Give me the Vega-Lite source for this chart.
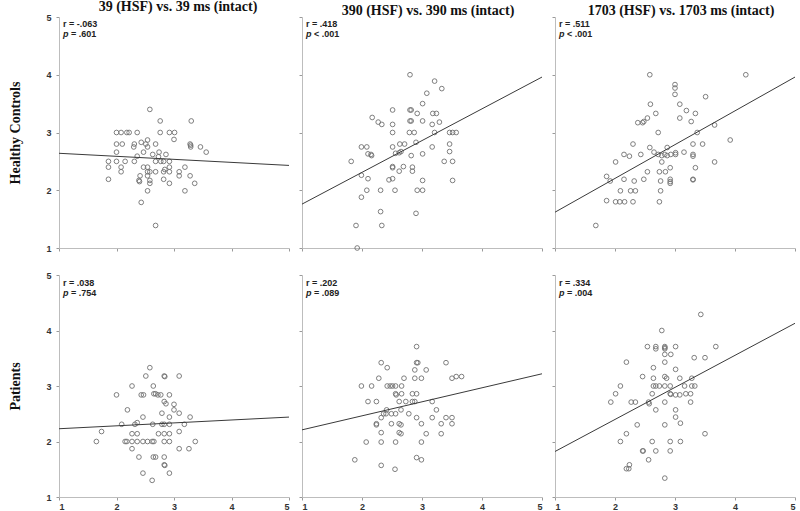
{
"$schema": "https://vega.github.io/schema/vega-lite/v6.json",
"padding": {"left": 8, "top": 0, "right": 0, "bottom": 0},
"columns": 3,
"align": "each",
"bounds": "flush",
"spacing": {"row": 27, "column": 13},
"datasets": {
"lines": [
{"p":1,"x":1,"y":2.64},{"p":1,"x":5,"y":2.43},
{"p":2,"x":1,"y":1.76},{"p":2,"x":5,"y":3.96},
{"p":3,"x":1,"y":1.62},{"p":3,"x":5,"y":3.96},
{"p":4,"x":1,"y":2.23},{"p":4,"x":5,"y":2.44},
{"p":5,"x":1,"y":2.21},{"p":5,"x":5,"y":3.22},
{"p":6,"x":1,"y":1.82},{"p":6,"x":5,"y":4.13}
],
"stats": [
{"p":1,"r":"r = -.063","v":"= .601"},
{"p":2,"r":"r = .418","v":"< .001"},
{"p":3,"r":"r = .511","v":"< .001"},
{"p":4,"r":"r = .038","v":"= .754"},
{"p":5,"r":"r = .202","v":"= .089"},
{"p":6,"r":"r = .334","v":"= .004"}
],
"pts": [
{"p":1,"x":2.58,"y":3.40},{"p":1,"x":2.76,"y":3.20},{"p":1,"x":3.30,"y":3.20},{"p":1,"x":2.00,"y":3.00},{"p":1,"x":2.08,"y":3.00},{"p":1,"x":2.18,"y":3.00},{"p":1,"x":2.22,"y":3.00},{"p":1,"x":2.36,"y":3.00},{"p":1,"x":2.76,"y":3.00},{"p":1,"x":2.92,"y":3.00},{"p":1,"x":3.01,"y":3.00},{"p":1,"x":2.54,"y":2.87},{"p":1,"x":3.00,"y":2.88},{"p":1,"x":2.00,"y":2.80},{"p":1,"x":2.10,"y":2.80},{"p":1,"x":2.31,"y":2.80},{"p":1,"x":2.43,"y":2.83},{"p":1,"x":2.51,"y":2.80},{"p":1,"x":2.68,"y":2.80},{"p":1,"x":3.28,"y":2.80},{"p":1,"x":3.29,"y":2.78},{"p":1,"x":2.30,"y":2.75},{"p":1,"x":2.54,"y":2.75},{"p":1,"x":3.46,"y":2.75},{"p":1,"x":3.29,"y":2.75},{"p":1,"x":3.56,"y":2.66},{"p":1,"x":2.00,"y":2.66},{"p":1,"x":2.63,"y":2.62},{"p":1,"x":2.74,"y":2.66},{"p":1,"x":2.86,"y":2.62},{"p":1,"x":2.36,"y":2.59},{"p":1,"x":2.47,"y":2.66},{"p":1,"x":1.86,"y":2.50},{"p":1,"x":2.00,"y":2.50},{"p":1,"x":2.15,"y":2.50},{"p":1,"x":2.31,"y":2.50},{"p":1,"x":2.68,"y":2.50},{"p":1,"x":2.77,"y":2.50},{"p":1,"x":2.82,"y":2.50},{"p":1,"x":2.92,"y":2.50},{"p":1,"x":2.73,"y":2.58},{"p":1,"x":1.86,"y":2.40},{"p":1,"x":2.08,"y":2.40},{"p":1,"x":2.47,"y":2.40},{"p":1,"x":2.54,"y":2.40},{"p":1,"x":2.92,"y":2.40},{"p":1,"x":3.19,"y":2.40},{"p":1,"x":2.84,"y":2.36},{"p":1,"x":2.08,"y":2.32},{"p":1,"x":2.54,"y":2.32},{"p":1,"x":2.58,"y":2.32},{"p":1,"x":2.68,"y":2.32},{"p":1,"x":2.82,"y":2.32},{"p":1,"x":2.92,"y":2.32},{"p":1,"x":3.09,"y":2.32},{"p":1,"x":3.09,"y":2.25},{"p":1,"x":3.28,"y":2.25},{"p":1,"x":2.41,"y":2.25},{"p":1,"x":2.54,"y":2.25},{"p":1,"x":1.86,"y":2.19},{"p":1,"x":2.39,"y":2.17},{"p":1,"x":2.40,"y":2.15},{"p":1,"x":2.58,"y":2.17},{"p":1,"x":2.58,"y":2.12},{"p":1,"x":2.82,"y":2.19},{"p":1,"x":2.92,"y":2.12},{"p":1,"x":3.36,"y":2.12},{"p":1,"x":2.54,"y":1.99},{"p":1,"x":3.19,"y":1.99},{"p":1,"x":2.43,"y":1.79},{"p":1,"x":2.68,"y":1.39},
{"p":2,"x":2.80,"y":4.00},{"p":2,"x":3.21,"y":3.89},{"p":2,"x":3.33,"y":3.76},{"p":2,"x":3.08,"y":3.68},{"p":2,"x":3.01,"y":3.50},{"p":2,"x":2.51,"y":3.39},{"p":2,"x":2.80,"y":3.39},{"p":2,"x":2.82,"y":3.39},{"p":2,"x":3.18,"y":3.33},{"p":2,"x":3.24,"y":3.33},{"p":2,"x":2.92,"y":3.33},{"p":2,"x":2.17,"y":3.26},{"p":2,"x":2.27,"y":3.18},{"p":2,"x":2.33,"y":3.14},{"p":2,"x":2.51,"y":3.14},{"p":2,"x":2.82,"y":3.20},{"p":2,"x":2.80,"y":3.20},{"p":2,"x":3.01,"y":3.20},{"p":2,"x":3.29,"y":3.18},{"p":2,"x":3.17,"y":3.14},{"p":2,"x":2.51,"y":3.00},{"p":2,"x":2.79,"y":3.00},{"p":2,"x":2.87,"y":3.00},{"p":2,"x":3.21,"y":3.00},{"p":2,"x":3.46,"y":3.00},{"p":2,"x":3.51,"y":3.00},{"p":2,"x":3.57,"y":3.00},{"p":2,"x":1.99,"y":2.75},{"p":2,"x":2.08,"y":2.75},{"p":2,"x":2.51,"y":2.75},{"p":2,"x":2.63,"y":2.80},{"p":2,"x":2.71,"y":2.80},{"p":2,"x":2.90,"y":2.83},{"p":2,"x":3.17,"y":2.75},{"p":2,"x":3.46,"y":2.80},{"p":2,"x":2.10,"y":2.63},{"p":2,"x":2.15,"y":2.62},{"p":2,"x":2.16,"y":2.60},{"p":2,"x":2.56,"y":2.64},{"p":2,"x":2.62,"y":2.65},{"p":2,"x":2.65,"y":2.67},{"p":2,"x":2.82,"y":2.60},{"p":2,"x":3.01,"y":2.63},{"p":2,"x":3.46,"y":2.67},{"p":2,"x":1.82,"y":2.50},{"p":2,"x":3.37,"y":2.50},{"p":2,"x":3.51,"y":2.50},{"p":2,"x":2.51,"y":2.39},{"p":2,"x":2.51,"y":2.41},{"p":2,"x":2.69,"y":2.41},{"p":2,"x":2.84,"y":2.40},{"p":2,"x":2.84,"y":2.33},{"p":2,"x":2.62,"y":2.33},{"p":2,"x":1.99,"y":2.26},{"p":2,"x":2.10,"y":2.20},{"p":2,"x":2.45,"y":2.18},{"p":2,"x":2.51,"y":2.20},{"p":2,"x":3.01,"y":2.17},{"p":2,"x":3.51,"y":2.17},{"p":2,"x":2.08,"y":2.00},{"p":2,"x":2.31,"y":2.00},{"p":2,"x":2.55,"y":2.00},{"p":2,"x":2.92,"y":2.00},{"p":2,"x":3.01,"y":2.00},{"p":2,"x":1.99,"y":1.88},{"p":2,"x":2.31,"y":1.63},{"p":2,"x":2.90,"y":1.60},{"p":2,"x":1.90,"y":1.39},{"p":2,"x":2.33,"y":1.39},{"p":2,"x":1.92,"y":1.00},
{"p":3,"x":2.58,"y":4.00},{"p":3,"x":4.18,"y":4.00},{"p":3,"x":3.00,"y":3.83},{"p":3,"x":3.00,"y":3.77},{"p":3,"x":3.00,"y":3.66},{"p":3,"x":3.51,"y":3.62},{"p":3,"x":2.59,"y":3.49},{"p":3,"x":3.08,"y":3.49},{"p":3,"x":3.19,"y":3.38},{"p":3,"x":2.68,"y":3.33},{"p":3,"x":3.34,"y":3.33},{"p":3,"x":2.54,"y":3.25},{"p":3,"x":3.08,"y":3.25},{"p":3,"x":3.27,"y":3.19},{"p":3,"x":2.38,"y":3.17},{"p":3,"x":2.46,"y":3.17},{"p":3,"x":2.48,"y":3.19},{"p":3,"x":3.66,"y":3.13},{"p":3,"x":2.72,"y":3.00},{"p":3,"x":3.37,"y":3.00},{"p":3,"x":3.92,"y":2.87},{"p":3,"x":2.30,"y":2.80},{"p":3,"x":2.58,"y":2.74},{"p":3,"x":2.87,"y":2.74},{"p":3,"x":3.30,"y":2.80},{"p":3,"x":3.46,"y":2.80},{"p":3,"x":2.65,"y":2.66},{"p":3,"x":2.15,"y":2.62},{"p":3,"x":2.24,"y":2.59},{"p":3,"x":2.43,"y":2.62},{"p":3,"x":2.72,"y":2.62},{"p":3,"x":2.78,"y":2.60},{"p":3,"x":2.83,"y":2.62},{"p":3,"x":2.87,"y":2.60},{"p":3,"x":2.93,"y":2.62},{"p":3,"x":3.01,"y":2.65},{"p":3,"x":3.01,"y":2.62},{"p":3,"x":3.15,"y":2.66},{"p":3,"x":3.30,"y":2.62},{"p":3,"x":3.30,"y":2.59},{"p":3,"x":2.78,"y":2.49},{"p":3,"x":2.01,"y":2.49},{"p":3,"x":3.66,"y":2.49},{"p":3,"x":2.54,"y":2.32},{"p":3,"x":2.74,"y":2.32},{"p":3,"x":2.84,"y":2.32},{"p":3,"x":2.92,"y":2.39},{"p":3,"x":3.34,"y":2.39},{"p":3,"x":1.86,"y":2.24},{"p":3,"x":1.92,"y":2.16},{"p":3,"x":2.15,"y":2.19},{"p":3,"x":2.32,"y":2.16},{"p":3,"x":2.48,"y":2.19},{"p":3,"x":2.76,"y":2.16},{"p":3,"x":2.92,"y":2.19},{"p":3,"x":2.92,"y":2.15},{"p":3,"x":2.92,"y":2.12},{"p":3,"x":3.30,"y":2.19},{"p":3,"x":3.30,"y":2.18},{"p":3,"x":2.09,"y":1.99},{"p":3,"x":2.26,"y":1.99},{"p":3,"x":2.34,"y":1.99},{"p":3,"x":2.76,"y":1.99},{"p":3,"x":1.86,"y":1.82},{"p":3,"x":2.01,"y":1.80},{"p":3,"x":2.08,"y":1.80},{"p":3,"x":2.16,"y":1.80},{"p":3,"x":2.30,"y":1.80},{"p":3,"x":2.74,"y":1.80},{"p":3,"x":1.68,"y":1.39},
{"p":4,"x":2.58,"y":3.33},{"p":4,"x":2.51,"y":3.18},{"p":4,"x":2.83,"y":3.18},{"p":4,"x":2.84,"y":3.17},{"p":4,"x":3.09,"y":3.18},{"p":4,"x":2.27,"y":3.00},{"p":4,"x":2.64,"y":3.00},{"p":4,"x":2.00,"y":2.84},{"p":4,"x":2.43,"y":2.84},{"p":4,"x":2.47,"y":2.84},{"p":4,"x":2.65,"y":2.86},{"p":4,"x":2.68,"y":2.86},{"p":4,"x":2.72,"y":2.84},{"p":4,"x":2.77,"y":2.84},{"p":4,"x":2.92,"y":2.84},{"p":4,"x":2.83,"y":2.72},{"p":4,"x":2.86,"y":2.68},{"p":4,"x":3.00,"y":2.67},{"p":4,"x":2.19,"y":2.57},{"p":4,"x":3.00,"y":2.57},{"p":4,"x":2.79,"y":2.51},{"p":4,"x":3.09,"y":2.51},{"p":4,"x":2.46,"y":2.44},{"p":4,"x":2.92,"y":2.44},{"p":4,"x":3.28,"y":2.44},{"p":4,"x":2.09,"y":2.31},{"p":4,"x":2.32,"y":2.31},{"p":4,"x":2.36,"y":2.34},{"p":4,"x":2.63,"y":2.31},{"p":4,"x":2.79,"y":2.31},{"p":4,"x":2.83,"y":2.31},{"p":4,"x":2.92,"y":2.31},{"p":4,"x":3.18,"y":2.31},{"p":4,"x":1.74,"y":2.18},{"p":4,"x":2.27,"y":2.14},{"p":4,"x":2.36,"y":2.14},{"p":4,"x":2.73,"y":2.14},{"p":4,"x":2.83,"y":2.14},{"p":4,"x":2.92,"y":2.14},{"p":4,"x":3.09,"y":2.18},{"p":4,"x":1.65,"y":2.00},{"p":4,"x":2.15,"y":2.00},{"p":4,"x":2.18,"y":2.00},{"p":4,"x":2.27,"y":2.00},{"p":4,"x":2.36,"y":2.00},{"p":4,"x":2.46,"y":2.00},{"p":4,"x":2.54,"y":2.00},{"p":4,"x":2.62,"y":2.00},{"p":4,"x":2.65,"y":2.00},{"p":4,"x":2.83,"y":2.00},{"p":4,"x":2.92,"y":2.00},{"p":4,"x":3.37,"y":2.00},{"p":4,"x":2.27,"y":1.87},{"p":4,"x":3.09,"y":1.87},{"p":4,"x":3.26,"y":1.87},{"p":4,"x":2.39,"y":1.72},{"p":4,"x":2.64,"y":1.72},{"p":4,"x":2.68,"y":1.72},{"p":4,"x":2.83,"y":1.72},{"p":4,"x":2.83,"y":1.58},{"p":4,"x":2.84,"y":1.57},{"p":4,"x":2.46,"y":1.43},{"p":4,"x":2.92,"y":1.43},{"p":4,"x":2.62,"y":1.30},
{"p":5,"x":2.91,"y":3.71},{"p":5,"x":2.32,"y":3.42},{"p":5,"x":2.91,"y":3.42},{"p":5,"x":2.93,"y":3.42},{"p":5,"x":3.40,"y":3.42},{"p":5,"x":2.42,"y":3.33},{"p":5,"x":2.88,"y":3.29},{"p":5,"x":3.07,"y":3.29},{"p":5,"x":2.28,"y":3.14},{"p":5,"x":2.70,"y":3.14},{"p":5,"x":2.88,"y":3.14},{"p":5,"x":2.99,"y":3.14},{"p":5,"x":3.50,"y":3.14},{"p":5,"x":3.57,"y":3.17},{"p":5,"x":3.66,"y":3.17},{"p":5,"x":1.99,"y":3.00},{"p":5,"x":2.16,"y":3.00},{"p":5,"x":2.42,"y":3.00},{"p":5,"x":2.47,"y":3.00},{"p":5,"x":2.51,"y":3.00},{"p":5,"x":2.56,"y":3.00},{"p":5,"x":2.66,"y":3.00},{"p":5,"x":2.56,"y":2.86},{"p":5,"x":2.57,"y":2.84},{"p":5,"x":2.66,"y":2.86},{"p":5,"x":2.84,"y":2.86},{"p":5,"x":2.91,"y":2.86},{"p":5,"x":2.10,"y":2.72},{"p":5,"x":2.24,"y":2.72},{"p":5,"x":2.62,"y":2.72},{"p":5,"x":2.73,"y":2.72},{"p":5,"x":2.84,"y":2.72},{"p":5,"x":2.88,"y":2.72},{"p":5,"x":3.17,"y":2.72},{"p":5,"x":3.24,"y":2.57},{"p":5,"x":2.65,"y":2.57},{"p":5,"x":2.41,"y":2.57},{"p":5,"x":2.36,"y":2.50},{"p":5,"x":2.40,"y":2.50},{"p":5,"x":2.49,"y":2.50},{"p":5,"x":2.56,"y":2.50},{"p":5,"x":2.78,"y":2.50},{"p":5,"x":2.32,"y":2.43},{"p":5,"x":2.91,"y":2.43},{"p":5,"x":3.17,"y":2.43},{"p":5,"x":3.40,"y":2.43},{"p":5,"x":3.50,"y":2.43},{"p":5,"x":2.24,"y":2.32},{"p":5,"x":2.24,"y":2.30},{"p":5,"x":2.49,"y":2.32},{"p":5,"x":2.62,"y":2.32},{"p":5,"x":2.65,"y":2.30},{"p":5,"x":2.99,"y":2.32},{"p":5,"x":3.32,"y":2.32},{"p":5,"x":3.50,"y":2.32},{"p":5,"x":2.32,"y":2.16},{"p":5,"x":2.62,"y":2.16},{"p":5,"x":2.65,"y":2.14},{"p":5,"x":3.07,"y":2.14},{"p":5,"x":3.32,"y":2.14},{"p":5,"x":2.07,"y":1.99},{"p":5,"x":2.32,"y":1.99},{"p":5,"x":2.56,"y":1.99},{"p":5,"x":2.99,"y":1.99},{"p":5,"x":1.88,"y":1.67},{"p":5,"x":2.91,"y":1.71},{"p":5,"x":2.99,"y":1.67},{"p":5,"x":2.32,"y":1.57},{"p":5,"x":2.55,"y":1.50},
{"p":6,"x":3.43,"y":4.29},{"p":6,"x":2.78,"y":4.00},{"p":6,"x":2.54,"y":3.71},{"p":6,"x":2.68,"y":3.71},{"p":6,"x":2.68,"y":3.67},{"p":6,"x":2.83,"y":3.71},{"p":6,"x":2.83,"y":3.69},{"p":6,"x":2.83,"y":3.67},{"p":6,"x":3.01,"y":3.71},{"p":6,"x":3.68,"y":3.71},{"p":6,"x":2.83,"y":3.57},{"p":6,"x":2.93,"y":3.57},{"p":6,"x":3.32,"y":3.51},{"p":6,"x":3.50,"y":3.51},{"p":6,"x":2.19,"y":3.43},{"p":6,"x":2.83,"y":3.43},{"p":6,"x":2.64,"y":3.33},{"p":6,"x":3.01,"y":3.30},{"p":6,"x":2.46,"y":3.17},{"p":6,"x":2.64,"y":3.14},{"p":6,"x":2.83,"y":3.17},{"p":6,"x":2.86,"y":3.14},{"p":6,"x":3.08,"y":3.14},{"p":6,"x":3.28,"y":3.14},{"p":6,"x":2.09,"y":3.00},{"p":6,"x":2.64,"y":3.00},{"p":6,"x":2.68,"y":3.00},{"p":6,"x":2.74,"y":3.00},{"p":6,"x":2.83,"y":3.00},{"p":6,"x":2.92,"y":3.00},{"p":6,"x":3.16,"y":3.00},{"p":6,"x":3.28,"y":3.00},{"p":6,"x":3.33,"y":3.00},{"p":6,"x":2.01,"y":2.86},{"p":6,"x":2.62,"y":2.86},{"p":6,"x":2.92,"y":2.86},{"p":6,"x":2.93,"y":2.85},{"p":6,"x":3.01,"y":2.84},{"p":6,"x":3.08,"y":2.84},{"p":6,"x":3.18,"y":2.86},{"p":6,"x":3.26,"y":2.86},{"p":6,"x":1.93,"y":2.71},{"p":6,"x":2.27,"y":2.71},{"p":6,"x":2.34,"y":2.71},{"p":6,"x":2.56,"y":2.71},{"p":6,"x":2.57,"y":2.68},{"p":6,"x":2.83,"y":2.71},{"p":6,"x":3.26,"y":2.71},{"p":6,"x":2.68,"y":2.57},{"p":6,"x":3.01,"y":2.57},{"p":6,"x":3.01,"y":2.44},{"p":6,"x":3.09,"y":2.33},{"p":6,"x":2.37,"y":2.30},{"p":6,"x":2.83,"y":2.30},{"p":6,"x":2.19,"y":2.14},{"p":6,"x":3.50,"y":2.14},{"p":6,"x":2.09,"y":2.00},{"p":6,"x":2.62,"y":2.00},{"p":6,"x":2.92,"y":2.00},{"p":6,"x":3.09,"y":2.00},{"p":6,"x":2.46,"y":1.83},{"p":6,"x":2.47,"y":1.83},{"p":6,"x":2.68,"y":1.83},{"p":6,"x":2.92,"y":1.83},{"p":6,"x":2.56,"y":1.67},{"p":6,"x":2.19,"y":1.51},{"p":6,"x":2.23,"y":1.51},{"p":6,"x":2.24,"y":1.58},{"p":6,"x":2.83,"y":1.34}
]
},
"concat": [
{"width": 230, "height": 231, "title": {"text": "39 (HSF) vs. 39 ms (intact)", "dx": 4},
 "layer": [
  {"data": {"name": "pts"}, "transform": [{"filter": "datum.p==1"}], "mark": {"type": "point", "filled": false, "size": 22, "stroke": "#707070", "strokeWidth": 0.9, "opacity": 1, "clip": false},
   "encoding": {"x": {"field": "x", "type": "quantitative", "scale": {"domain": [1, 5], "nice": false, "zero": false}, "axis": {"values": [1, 2, 3, 4, 5], "format": "d", "labels": false, "title": null}},
                "y": {"field": "y", "type": "quantitative", "scale": {"domain": [1, 5], "nice": false, "zero": false}, "axis": {"values": [1, 2, 3, 4, 5], "format": "d", "labels": true, "title": "Healthy Controls"}}}},
  {"data": {"name": "lines"}, "transform": [{"filter": "datum.p==1"}], "mark": {"type": "line", "color": "#3a3a3a", "strokeWidth": 1}, "encoding": {"x": {"field": "x", "type": "quantitative"}, "y": {"field": "y", "type": "quantitative"}}},
  {"data": {"name": "stats"}, "transform": [{"filter": "datum.p==1"}], "mark": {"type": "text", "align": "left", "baseline": "middle", "dx": 4, "dy": 7, "font": "Liberation Sans", "fontWeight": "bold", "fontSize": 9, "color": "#222"}, "encoding": {"x": {"datum": 1}, "y": {"datum": 5}, "text": {"field": "r"}}},
  {"data": {"name": "stats"}, "transform": [{"filter": "datum.p==1"}], "mark": {"type": "text", "align": "left", "baseline": "middle", "dx": 4, "dy": 17, "font": "Liberation Sans", "fontWeight": "bold", "fontStyle": "italic", "fontSize": 9, "color": "#222"}, "encoding": {"x": {"datum": 1}, "y": {"datum": 5}, "text": {"value": "p"}}},
  {"data": {"name": "stats"}, "transform": [{"filter": "datum.p==1"}], "mark": {"type": "text", "align": "left", "baseline": "middle", "dx": 12, "dy": 17, "font": "Liberation Sans", "fontWeight": "bold", "fontSize": 9, "color": "#222"}, "encoding": {"x": {"datum": 1}, "y": {"datum": 5}, "text": {"field": "v"}}}
 ]},
{"width": 240, "height": 231, "title": {"text": "390 (HSF) vs. 390 ms (intact)", "dx": 6},
 "layer": [
  {"data": {"name": "pts"}, "transform": [{"filter": "datum.p==2"}], "mark": {"type": "point", "filled": false, "size": 22, "stroke": "#707070", "strokeWidth": 0.9, "opacity": 1, "clip": false},
   "encoding": {"x": {"field": "x", "type": "quantitative", "scale": {"domain": [1, 5], "nice": false, "zero": false}, "axis": {"values": [1, 2, 3, 4, 5], "format": "d", "labels": false, "title": null}},
                "y": {"field": "y", "type": "quantitative", "scale": {"domain": [1, 5], "nice": false, "zero": false}, "axis": {"values": [1, 2, 3, 4, 5], "format": "d", "labels": false, "title": null}}}},
  {"data": {"name": "lines"}, "transform": [{"filter": "datum.p==2"}], "mark": {"type": "line", "color": "#3a3a3a", "strokeWidth": 1}, "encoding": {"x": {"field": "x", "type": "quantitative"}, "y": {"field": "y", "type": "quantitative"}}},
  {"data": {"name": "stats"}, "transform": [{"filter": "datum.p==2"}], "mark": {"type": "text", "align": "left", "baseline": "middle", "dx": 4, "dy": 7, "font": "Liberation Sans", "fontWeight": "bold", "fontSize": 9, "color": "#222"}, "encoding": {"x": {"datum": 1}, "y": {"datum": 5}, "text": {"field": "r"}}},
  {"data": {"name": "stats"}, "transform": [{"filter": "datum.p==2"}], "mark": {"type": "text", "align": "left", "baseline": "middle", "dx": 4, "dy": 17, "font": "Liberation Sans", "fontWeight": "bold", "fontStyle": "italic", "fontSize": 9, "color": "#222"}, "encoding": {"x": {"datum": 1}, "y": {"datum": 5}, "text": {"value": "p"}}},
  {"data": {"name": "stats"}, "transform": [{"filter": "datum.p==2"}], "mark": {"type": "text", "align": "left", "baseline": "middle", "dx": 12, "dy": 17, "font": "Liberation Sans", "fontWeight": "bold", "fontSize": 9, "color": "#222"}, "encoding": {"x": {"datum": 1}, "y": {"datum": 5}, "text": {"field": "v"}}}
 ]},
{"width": 240, "height": 231, "title": {"text": "1703 (HSF) vs. 1703 ms (intact)", "dx": 6},
 "layer": [
  {"data": {"name": "pts"}, "transform": [{"filter": "datum.p==3"}], "mark": {"type": "point", "filled": false, "size": 22, "stroke": "#707070", "strokeWidth": 0.9, "opacity": 1, "clip": false},
   "encoding": {"x": {"field": "x", "type": "quantitative", "scale": {"domain": [1, 5], "nice": false, "zero": false}, "axis": {"values": [1, 2, 3, 4, 5], "format": "d", "labels": false, "title": null}},
                "y": {"field": "y", "type": "quantitative", "scale": {"domain": [1, 5], "nice": false, "zero": false}, "axis": {"values": [1, 2, 3, 4, 5], "format": "d", "labels": false, "title": null}}}},
  {"data": {"name": "lines"}, "transform": [{"filter": "datum.p==3"}], "mark": {"type": "line", "color": "#3a3a3a", "strokeWidth": 1}, "encoding": {"x": {"field": "x", "type": "quantitative"}, "y": {"field": "y", "type": "quantitative"}}},
  {"data": {"name": "stats"}, "transform": [{"filter": "datum.p==3"}], "mark": {"type": "text", "align": "left", "baseline": "middle", "dx": 4, "dy": 7, "font": "Liberation Sans", "fontWeight": "bold", "fontSize": 9, "color": "#222"}, "encoding": {"x": {"datum": 1}, "y": {"datum": 5}, "text": {"field": "r"}}},
  {"data": {"name": "stats"}, "transform": [{"filter": "datum.p==3"}], "mark": {"type": "text", "align": "left", "baseline": "middle", "dx": 4, "dy": 17, "font": "Liberation Sans", "fontWeight": "bold", "fontStyle": "italic", "fontSize": 9, "color": "#222"}, "encoding": {"x": {"datum": 1}, "y": {"datum": 5}, "text": {"value": "p"}}},
  {"data": {"name": "stats"}, "transform": [{"filter": "datum.p==3"}], "mark": {"type": "text", "align": "left", "baseline": "middle", "dx": 12, "dy": 17, "font": "Liberation Sans", "fontWeight": "bold", "fontSize": 9, "color": "#222"}, "encoding": {"x": {"datum": 1}, "y": {"datum": 5}, "text": {"field": "v"}}}
 ]},
{"width": 230, "height": 222,
 "layer": [
  {"data": {"name": "pts"}, "transform": [{"filter": "datum.p==4"}], "mark": {"type": "point", "filled": false, "size": 22, "stroke": "#707070", "strokeWidth": 0.9, "opacity": 1, "clip": false},
   "encoding": {"x": {"field": "x", "type": "quantitative", "scale": {"domain": [1, 5], "nice": false, "zero": false}, "axis": {"values": [1, 2, 3, 4, 5], "format": "d", "labels": true, "title": null}},
                "y": {"field": "y", "type": "quantitative", "scale": {"domain": [1, 5], "nice": false, "zero": false}, "axis": {"values": [1, 2, 3, 4, 5], "format": "d", "labels": true, "title": "Patients"}}}},
  {"data": {"name": "lines"}, "transform": [{"filter": "datum.p==4"}], "mark": {"type": "line", "color": "#3a3a3a", "strokeWidth": 1}, "encoding": {"x": {"field": "x", "type": "quantitative"}, "y": {"field": "y", "type": "quantitative"}}},
  {"data": {"name": "stats"}, "transform": [{"filter": "datum.p==4"}], "mark": {"type": "text", "align": "left", "baseline": "middle", "dx": 4, "dy": 8, "font": "Liberation Sans", "fontWeight": "bold", "fontSize": 9, "color": "#222"}, "encoding": {"x": {"datum": 1}, "y": {"datum": 5}, "text": {"field": "r"}}},
  {"data": {"name": "stats"}, "transform": [{"filter": "datum.p==4"}], "mark": {"type": "text", "align": "left", "baseline": "middle", "dx": 4, "dy": 18, "font": "Liberation Sans", "fontWeight": "bold", "fontStyle": "italic", "fontSize": 9, "color": "#222"}, "encoding": {"x": {"datum": 1}, "y": {"datum": 5}, "text": {"value": "p"}}},
  {"data": {"name": "stats"}, "transform": [{"filter": "datum.p==4"}], "mark": {"type": "text", "align": "left", "baseline": "middle", "dx": 12, "dy": 18, "font": "Liberation Sans", "fontWeight": "bold", "fontSize": 9, "color": "#222"}, "encoding": {"x": {"datum": 1}, "y": {"datum": 5}, "text": {"field": "v"}}}
 ]},
{"width": 240, "height": 222,
 "layer": [
  {"data": {"name": "pts"}, "transform": [{"filter": "datum.p==5"}], "mark": {"type": "point", "filled": false, "size": 22, "stroke": "#707070", "strokeWidth": 0.9, "opacity": 1, "clip": false},
   "encoding": {"x": {"field": "x", "type": "quantitative", "scale": {"domain": [1, 5], "nice": false, "zero": false}, "axis": {"values": [1, 2, 3, 4, 5], "format": "d", "labels": true, "title": null}},
                "y": {"field": "y", "type": "quantitative", "scale": {"domain": [1, 5], "nice": false, "zero": false}, "axis": {"values": [1, 2, 3, 4, 5], "format": "d", "labels": false, "title": null}}}},
  {"data": {"name": "lines"}, "transform": [{"filter": "datum.p==5"}], "mark": {"type": "line", "color": "#3a3a3a", "strokeWidth": 1}, "encoding": {"x": {"field": "x", "type": "quantitative"}, "y": {"field": "y", "type": "quantitative"}}},
  {"data": {"name": "stats"}, "transform": [{"filter": "datum.p==5"}], "mark": {"type": "text", "align": "left", "baseline": "middle", "dx": 4, "dy": 8, "font": "Liberation Sans", "fontWeight": "bold", "fontSize": 9, "color": "#222"}, "encoding": {"x": {"datum": 1}, "y": {"datum": 5}, "text": {"field": "r"}}},
  {"data": {"name": "stats"}, "transform": [{"filter": "datum.p==5"}], "mark": {"type": "text", "align": "left", "baseline": "middle", "dx": 4, "dy": 18, "font": "Liberation Sans", "fontWeight": "bold", "fontStyle": "italic", "fontSize": 9, "color": "#222"}, "encoding": {"x": {"datum": 1}, "y": {"datum": 5}, "text": {"value": "p"}}},
  {"data": {"name": "stats"}, "transform": [{"filter": "datum.p==5"}], "mark": {"type": "text", "align": "left", "baseline": "middle", "dx": 12, "dy": 18, "font": "Liberation Sans", "fontWeight": "bold", "fontSize": 9, "color": "#222"}, "encoding": {"x": {"datum": 1}, "y": {"datum": 5}, "text": {"field": "v"}}}
 ]},
{"width": 240, "height": 222,
 "layer": [
  {"data": {"name": "pts"}, "transform": [{"filter": "datum.p==6"}], "mark": {"type": "point", "filled": false, "size": 22, "stroke": "#707070", "strokeWidth": 0.9, "opacity": 1, "clip": false},
   "encoding": {"x": {"field": "x", "type": "quantitative", "scale": {"domain": [1, 5], "nice": false, "zero": false}, "axis": {"values": [1, 2, 3, 4, 5], "format": "d", "labels": true, "title": null}},
                "y": {"field": "y", "type": "quantitative", "scale": {"domain": [1, 5], "nice": false, "zero": false}, "axis": {"values": [1, 2, 3, 4, 5], "format": "d", "labels": false, "title": null}}}},
  {"data": {"name": "lines"}, "transform": [{"filter": "datum.p==6"}], "mark": {"type": "line", "color": "#3a3a3a", "strokeWidth": 1}, "encoding": {"x": {"field": "x", "type": "quantitative"}, "y": {"field": "y", "type": "quantitative"}}},
  {"data": {"name": "stats"}, "transform": [{"filter": "datum.p==6"}], "mark": {"type": "text", "align": "left", "baseline": "middle", "dx": 4, "dy": 8, "font": "Liberation Sans", "fontWeight": "bold", "fontSize": 9, "color": "#222"}, "encoding": {"x": {"datum": 1}, "y": {"datum": 5}, "text": {"field": "r"}}},
  {"data": {"name": "stats"}, "transform": [{"filter": "datum.p==6"}], "mark": {"type": "text", "align": "left", "baseline": "middle", "dx": 4, "dy": 18, "font": "Liberation Sans", "fontWeight": "bold", "fontStyle": "italic", "fontSize": 9, "color": "#222"}, "encoding": {"x": {"datum": 1}, "y": {"datum": 5}, "text": {"value": "p"}}},
  {"data": {"name": "stats"}, "transform": [{"filter": "datum.p==6"}], "mark": {"type": "text", "align": "left", "baseline": "middle", "dx": 12, "dy": 18, "font": "Liberation Sans", "fontWeight": "bold", "fontSize": 9, "color": "#222"}, "encoding": {"x": {"datum": 1}, "y": {"datum": 5}, "text": {"field": "v"}}}
 ]}
],
"config": {
 "view": {"stroke": null},
 "background": "white",
 "axis": {"grid": false, "domainColor": "#bdbdbd", "tickColor": "#9a9a9a", "tickSize": 3, "labelFont": "Liberation Sans", "labelFontWeight": "bold", "labelFontSize": 9, "labelColor": "#333", "titleFont": "Liberation Serif", "titleFontSize": 14, "titleFontWeight": "bold", "titleColor": "#111"},
 "axisX": {"labelPadding": 2},
 "axisY": {"labelPadding": 5, "titlePadding": 23},
 "title": {"font": "Liberation Serif", "fontSize": 14, "fontWeight": "bold", "color": "#111", "offset": -1, "anchor": "middle"}
}
}
